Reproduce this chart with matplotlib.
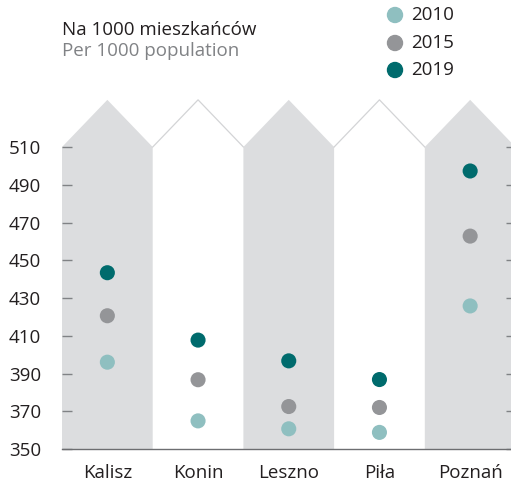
import matplotlib
matplotlib.use("Agg")
import matplotlib.pyplot as plt
from matplotlib.patches import Polygon, Ellipse
import numpy as np

plt.rcParams['font.family'] = ['Open Sans', 'DejaVu Sans']

# ---- data ----
cities = ["Kalisz", "Konin", "Leszno", "Piła", "Poznań"]
years = ["2010", "2015", "2019"]
v2010 = [396.0, 364.9, 360.7, 358.8, 425.8]
v2015 = [420.6, 386.7, 372.5, 372.0, 462.8]
v2019 = [443.4, 407.7, 396.7, 386.8, 497.3]
yticks = [350, 370, 390, 410, 430, 450, 470, 490, 510]

colors = ["#8fbfc0", "#949598", "#006b6d"]
col_fill = "#dcdddf"
roof_line = "#d3d4d6"
fs = 13.5

W, H = 511, 484
fig = plt.figure(figsize=(W / 100, H / 100), dpi=100)

# axes in pixel coords: left 62, bottom 449, right 515.5, top 90.4
ax = fig.add_axes([62 / W, (H - 449) / H, 453.5 / W, (449 - 90.4) / H])
ax.set_xlim(-0.5, 4.5)
ax.set_ylim(350, 540)

# house-shaped columns
roof_base, roof_top = 510, 535
for i in range(len(cities)):
    if i % 2 == 0:
        poly = Polygon([(i - 0.5, 350), (i - 0.5, roof_base), (i, roof_top),
                        (i + 0.5, roof_base), (i + 0.5, 350)],
                       closed=True, facecolor=col_fill, edgecolor="none", zorder=0)
        ax.add_patch(poly)
    else:
        ax.plot([i - 0.5, i, i + 0.5], [roof_base, roof_top, roof_base],
                color=roof_line, lw=0.9, zorder=0)

x = np.arange(len(cities))
for vals, c in zip([v2010, v2015, v2019], colors):
    ax.scatter(x, vals, s=118, color=c, edgecolors="none", zorder=3)

# axes styling
for s in ["top", "left", "right"]:
    ax.spines[s].set_visible(False)
ax.spines["bottom"].set_color("#6d6e71")
ax.spines["bottom"].set_linewidth(1.0)

ax.set_yticks(yticks)
ax.set_yticklabels([str(t) for t in yticks], fontsize=fs, color="#231f20")
ax.tick_params(axis="y", direction="in", length=7, width=1, color="#808285",
               pad=15, right=True, labelright=False)
ax.set_xticks(x)
ax.set_xticklabels(cities, fontsize=fs, color="#231f20")
ax.tick_params(axis="x", length=0, pad=11)

# header texts
fig.text(62 / W, 1 - 30 / H, "Na 1000 mieszkańców", fontsize=fs,
         color="#231f20", va="center", ha="left")
fig.text(62 / W, 1 - 51 / H, "Per 1000 population", fontsize=fs,
         color="#808285", va="center", ha="left")

# legend
leg_y = [15, 43, 70]
for yy, lab, c in zip(leg_y, years, colors):
    fig.patches.append(Ellipse((395 / W, 1 - yy / H), 15 / W, 15 / H,
                               transform=fig.transFigure, color=c))
    fig.text(411 / W, 1 - yy / H, lab, fontsize=fs, color="#231f20",
             va="center", ha="left")

fig.savefig("out.png", dpi=100)
